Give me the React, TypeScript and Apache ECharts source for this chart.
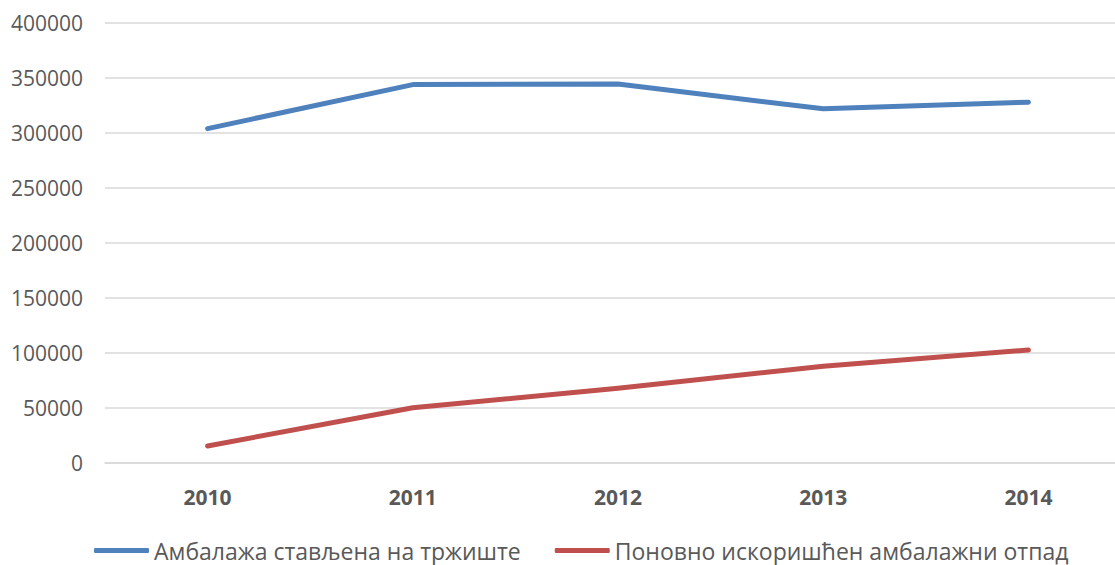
import React, { useEffect, useRef } from "react";
import * as echarts from "echarts";

const years = ["2010", "2011", "2012", "2013", "2014"];
const placedOnMarket = [304000, 344000, 344500, 322000, 328000];
const recycledWaste = [15500, 50300, 68000, 88000, 102700];
const seriesNames = ["Амбалажа стављена на тржиште", "Поновно искоришћен амбалажни отпад"];

const FONT = "Open Sans";

export default function App() {
  const ref = useRef<HTMLDivElement>(null);
  useEffect(() => {
    if (!ref.current) return;
    const chart = echarts.init(ref.current, undefined, { renderer: "svg" });
    chart.setOption({
      animation: false,
      textStyle: { fontFamily: FONT },
      grid: { left: 105, right: 0, top: 23, bottom: 102, containLabel: false },
      legend: {
        data: seriesNames,
        left: 89,
        top: 534,
        icon: "roundRect",
        itemWidth: 55,
        itemHeight: 5,
        itemGap: 34,
        textStyle: { color: "#595959", fontSize: 23, fontFamily: FONT, lineHeight: 23 },
      },
      xAxis: {
        type: "category",
        data: years,
        boundaryGap: true,
        axisLine: { show: true, lineStyle: { color: "#D9D9D9", width: 1.5 } },
        axisTick: { show: false },
        axisLabel: { color: "#595959", fontSize: 21, fontWeight: "bold", margin: 23, fontFamily: FONT },
      },
      yAxis: {
        type: "value",
        min: 0,
        max: 400000,
        interval: 50000,
        axisLine: { show: false },
        axisTick: { show: false },
        splitLine: { lineStyle: { color: "#D9D9D9", width: 1.5 } },
        axisLabel: {
          color: "#595959",
          fontSize: 21,
          margin: 22,
          fontFamily: FONT,
          formatter: (v: number) => String(v),
        },
      },
      series: [
        {
          name: seriesNames[0],
          type: "line",
          data: placedOnMarket,
          symbol: "none",
          color: "#4F81BD",
          lineStyle: { width: 5, color: "#4F81BD", cap: "round", join: "round" },
        },
        {
          name: seriesNames[1],
          type: "line",
          data: recycledWaste,
          symbol: "none",
          color: "#C0504D",
          lineStyle: { width: 5, color: "#C0504D", cap: "round", join: "round" },
        },
      ],
    });
    return () => chart.dispose();
  }, []);
  return (
    <div
      ref={ref}
      style={{ position: "fixed", left: 0, top: 0, width: 1131, height: 565, background: "#fff" }}
    />
  );
}
